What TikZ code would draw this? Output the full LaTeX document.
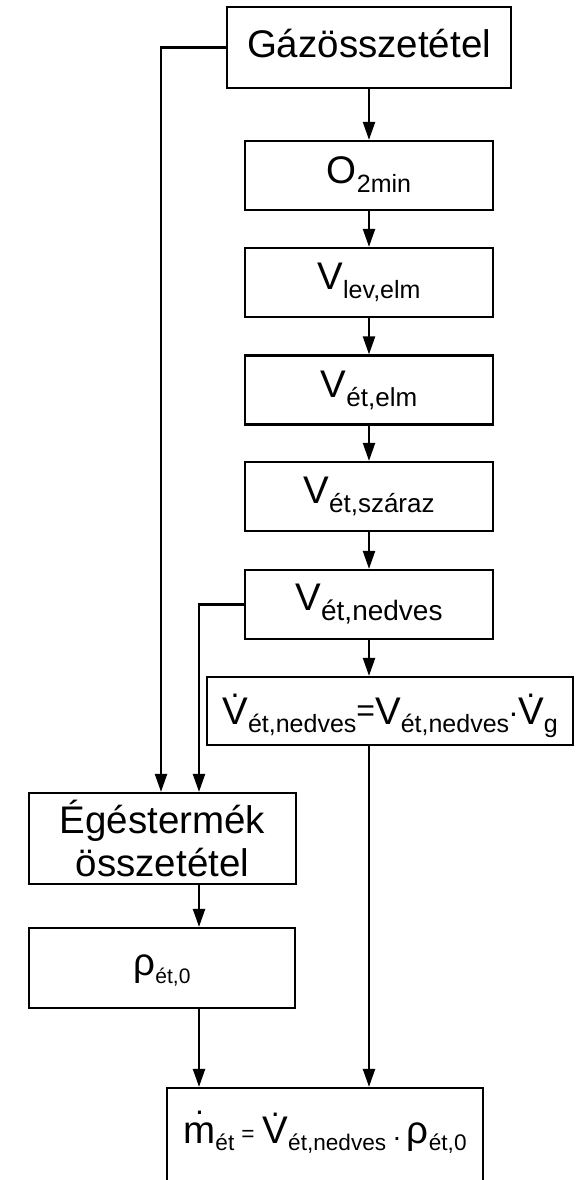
\documentclass[tikz,border=0pt]{standalone}
\usepackage{fontspec}
\setmainfont{Liberation Sans}
\usetikzlibrary{arrows.meta}
\newcommand\subtx[3]{\raisebox{-#1pt}{\fontsize{#2}{#2}\selectfont #3}}
\newcommand\dotover[2]{\ooalign{#1\cr\hidewidth\raisebox{#2pt}{\fontsize{32}{32}\selectfont .}\hidewidth\cr}}
\begin{document}
\begin{tikzpicture}[x=1pt,y=-1pt,
  box/.style={draw, line width=2.2pt, inner sep=0pt, font=\fontsize{38.5}{43}\selectfont},
  chain/.style={box, minimum width=248pt, minimum height=69pt, text height=27pt, text depth=14pt},
  arr/.style={line width=2.2pt, -{Triangle[length=18pt,width=12pt]}}]
\useasboundingbox (0,0) rectangle (580,1180);
\begin{scope}
\clip (0,0) rectangle (580,1180);
\fill[white] (0,0) rectangle (580,1180);
\node[box, minimum width=284pt, minimum height=81pt, text height=30pt, text depth=9pt] (gaz) at (369,47.5) {Gázösszetétel};
\node[chain, text height=27pt, text depth=12pt] (o2) at (369,175.5) {O\subtx{9.5}{25}{2min}};
\node[chain] (vlev) at (369,282.5) {V\subtx{9}{25}{lev,elm}};
\node[chain, text depth=13pt] (vetelm) at (369,390) {V\subtx{9}{26}{ét,elm}};
\node[chain] (vszar) at (369,496.5) {V\subtx{9}{26}{ét,száraz}};
\node[chain, text depth=16pt] (vned) at (369,604.5) {V\subtx{10}{28}{ét,nedves}};
\node[box, minimum width=366pt, minimum height=68pt, text height=30pt, text depth=4pt] (vdot) at (390,711) {\dotover{V}{27}\subtx{8}{25}{ét,nedves}{\fontsize{32}{32}\selectfont\raisebox{3pt}{=}}V\subtx{8}{25}{ét,nedves}\raisebox{8pt}{\fontsize{32}{32}\selectfont .}\dotover{V}{27}\subtx{8}{25}{g}};
\node[box, minimum width=267pt, minimum height=91pt, align=center] (eg) at (162.5,838.5) {Égéstermék\\összetétel};
\node[box, minimum width=266pt, minimum height=80pt, text height=27pt, text depth=13pt] (rho) at (162,968) {ρ\subtx{8}{21}{ét,0}};
\node[box, minimum width=316pt, minimum height=112pt, text height=20pt, text depth=22pt] (bot) at (325,1144) {\dotover{m}{29}\subtx{7}{22.6}{ét}\hspace{7pt}\raisebox{1.5pt}{\fontsize{22.6}{22.6}\selectfont =}\hspace{8pt}\dotover{V}{27}\subtx{7}{22.6}{ét,nedves}\hspace{7pt}\raisebox{3pt}{\fontsize{28}{28}\selectfont .}\hspace{6pt}ρ\subtx{7}{22.6}{ét,0}};
\draw[arr] (gaz.south) -- (o2.north);
\draw[arr] (o2.south) -- (vlev.north);
\draw[arr] (vlev.south) -- (vetelm.north);
\draw[arr] (vetelm.south) -- (vszar.north);
\draw[arr] (vszar.south) -- (vned.north);
\draw[arr] (vned.south) -- (vned.south |- vdot.north);
\draw[arr] (vned.south |- vdot.south) -- (vned.south |- bot.north);
\coordinate (egin) at ([xshift=36.5pt]eg.north);
\coordinate (egout) at ([xshift=36.5pt]eg.south);
\coordinate (rhoout) at ([xshift=37pt]rho.south);
\draw[arr] (gaz.west) -| ([xshift=-1.5pt]eg.north);
\draw[arr] (vned.west) -| (egin);
\draw[arr] (egout) -- (egout |- rho.north);
\draw[arr] (rhoout) -- (rhoout |- bot.north);
\end{scope}
\end{tikzpicture}
\end{document}
